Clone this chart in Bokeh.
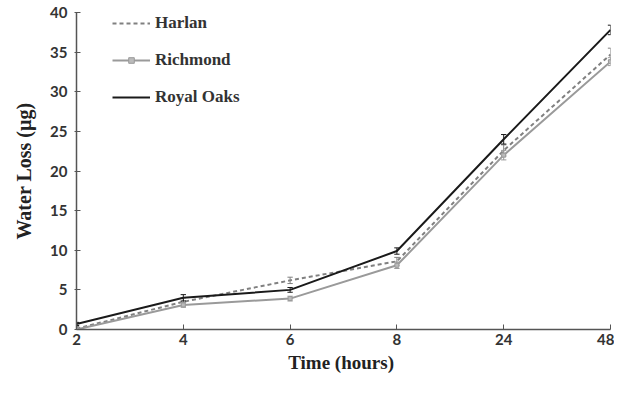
from bokeh.plotting import figure
from bokeh.models import Range1d, FixedTicker, Legend, LegendItem, ColumnDataSource
from bokeh.embed import file_html
from bokeh.resources import INLINE

time_labels = ["2", "4", "6", "8", "24", "48"]
harlan = [0.1, 3.5, 6.2, 8.6, 22.6, 34.7]
harlan_err = [0.3, 0.5, 0.4, 0.5, 0.7, 0.8]
richmond = [0.0, 3.1, 3.9, 8.1, 22.0, 33.8]
richmond_err = [0.2, 0.3, 0.3, 0.4, 0.6, 0.5]
royal = [0.7, 4.0, 5.0, 9.9, 24.0, 37.8]
royal_err = [0.2, 0.4, 0.3, 0.4, 0.6, 0.6]

xs = list(range(len(time_labels)))

p = figure(width=614, height=379, output_backend="svg", toolbar_location=None,
           x_range=Range1d(0, len(time_labels) - 1), y_range=Range1d(0, 40),
           min_border_left=76, min_border_right=4, min_border_top=12, min_border_bottom=50)
p.outline_line_color = None
p.xgrid.visible = False
p.ygrid.visible = False
p.background_fill_color = "white"
p.border_fill_color = "white"

ax = p.xaxis[0]
ax.ticker = FixedTicker(ticks=xs)
ax.major_label_overrides = {i: t for i, t in enumerate(time_labels)}
ax.minor_tick_line_color = None
ax.major_tick_in = 5
ax.major_tick_out = 0
ax.axis_line_color = "#555555"
ax.major_tick_line_color = "#555555"
ax.axis_line_width = 1.5
ax.major_label_text_font = "Lato"
ax.major_label_text_font_style = "bold"
ax.major_label_text_font_size = "15px"
ax.major_label_text_color = "#333333"
ax.major_label_standoff = 4
ax.axis_label = "Time  (hours)"
ax.axis_label_text_font = "Liberation Serif"
ax.axis_label_text_font_style = "bold"
ax.axis_label_text_font_size = "19px"
ax.axis_label_text_color = "#222222"
ax.axis_label_standoff = 4

ay = p.yaxis[0]
ay.ticker = FixedTicker(ticks=[0, 5, 10, 15, 20, 25, 30, 35, 40])
ay.minor_tick_line_color = None
ay.major_tick_in = 4
ay.major_tick_out = 2
ay.axis_line_color = "#555555"
ay.major_tick_line_color = "#555555"
ay.axis_line_width = 1.5
ay.major_label_text_font = "Lato"
ay.major_label_text_font_style = "bold"
ay.major_label_text_font_size = "15px"
ay.major_label_text_color = "#333333"
ay.major_label_standoff = 7
ay.axis_label = "Water Loss (µg)"
ay.axis_label_text_font = "Liberation Serif"
ay.axis_label_text_font_style = "bold"
ay.axis_label_text_font_size = "20px"
ay.axis_label_text_color = "#222222"
ay.axis_label_standoff = 12

series = [
    ("Harlan", harlan, harlan_err, "#808080", "4 3", None),
    ("Richmond", richmond, richmond_err, "#9a9a9a", "solid", "square"),
    ("Royal Oaks", royal, royal_err, "#1a1a1a", "solid", None),
]

items = []
cap = 0.025
for name, vals, err, color, dash, marker in series:
    lo = [v - e for v, e in zip(vals, err)]
    hi = [v + e for v, e in zip(vals, err)]
    src = ColumnDataSource(dict(x=xs, y=vals, lo=lo, hi=hi,
                                xl=[x - cap for x in xs], xr=[x + cap for x in xs]))
    p.segment(x0="x", y0="lo", x1="x", y1="hi", source=src, line_color=color, line_width=1)
    p.segment(x0="xl", y0="hi", x1="xr", y1="hi", source=src, line_color=color, line_width=1)
    p.segment(x0="xl", y0="lo", x1="xr", y1="lo", source=src, line_color=color, line_width=1)
    r = p.line(x="x", y="y", source=src, line_color=color, line_width=2, line_dash=dash)
    rs = [r]
    if marker:
        m = p.scatter(x="x", y="y", source=src, marker=marker, size=4,
                      fill_color="#bbbbbb", line_color=color)
        rs.append(m)
    items.append(LegendItem(label=name, renderers=rs))

legend = Legend(items=items, location=(36, 222), orientation="vertical",
                background_fill_alpha=0, border_line_color=None,
                label_text_font="Liberation Serif", label_text_font_style="bold",
                label_text_font_size="17px", label_text_color="#333333",
                glyph_width=38, glyph_height=14, label_height=14, spacing=17,
                padding=0, margin=0, label_standoff=5)
p.add_layout(legend, "center")

open("out.html", "w").write(file_html(p, INLINE))
